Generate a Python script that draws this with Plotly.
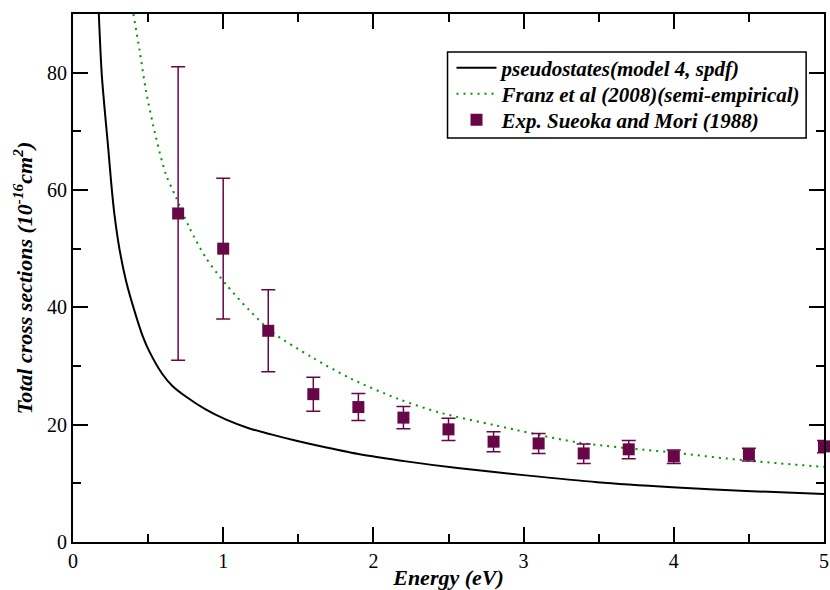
import plotly.graph_objects as go

# Pseudostates (model 4, spdf) curve
pseudo_x = [0.172, 0.192, 0.236, 0.254, 0.276, 0.309, 0.354, 0.42, 0.464, 0.508, 0.596, 0.662, 0.751, 0.883,
            1.016, 1.17, 1.325, 1.48, 1.634, 1.899, 2.23, 2.56, 3.0, 3.49, 3.99, 4.48, 5.0]
pseudo_y = [90.0, 79.5, 66.7, 61.3, 55.8, 50.0, 44.4, 38.5, 35.1, 32.5, 28.6, 26.6, 24.8, 22.6,
            20.9, 19.4, 18.3, 17.3, 16.4, 15.0, 13.7, 12.6, 11.4, 10.2, 9.35, 8.7, 8.2]

# Franz et al (2008) semi-empirical curve
franz_x = [0.402, 0.442, 0.486, 0.552, 0.618, 0.685, 0.773, 0.883, 1.016, 1.17, 1.325, 1.59, 1.854, 2.164,
           2.45, 2.81, 3.355, 3.97, 4.48, 5.0]
franz_y = [90.0, 84.0, 76.9, 69.0, 62.7, 58.8, 53.7, 48.5, 44.0, 39.6, 35.8, 31.5, 27.8, 24.4,
           22.0, 19.9, 17.0, 15.3, 13.9, 12.8]

# Experiment: Sueoka and Mori (1988)
exp_x = [0.7, 1.0, 1.3, 1.6, 1.9, 2.2, 2.5, 2.8, 3.1, 3.4, 3.7, 4.0, 4.5, 5.0]
exp_y = [56.0, 50.0, 36.0, 25.2, 23.0, 21.2, 19.2, 17.1, 16.8, 15.1, 15.8, 14.6, 15.0, 16.3]
exp_hi = [81.0, 62.0, 43.0, 28.1, 25.3, 23.1, 21.1, 18.8, 18.5, 16.7, 17.3, 15.7, 16.0, 17.3]
exp_lo = [31.0, 38.0, 29.0, 22.3, 20.7, 19.3, 17.3, 15.4, 15.1, 13.4, 14.2, 13.4, 13.8, 15.2]

x_ticks = [0, 1, 2, 3, 4, 5]
y_ticks = [0, 20, 40, 60, 80]

err_plus = [h - y for h, y in zip(exp_hi, exp_y)]
err_minus = [y - l for l, y in zip(exp_lo, exp_y)]

MAROON = "#670748"
GREEN = "rgb(0,150,0)"
SERIF = "Liberation Serif, Times New Roman, serif"
LEG_FONT = dict(family=SERIF, size=21, color="black", weight="bold", style="italic")
TITLE_FONT = dict(family=SERIF, size=22, color="black", weight="bold", style="italic")

fig = go.Figure()
fig.add_trace(go.Scatter(
    x=pseudo_x, y=pseudo_y, mode="lines", name="pseudostates(model 4, spdf)",
    line=dict(color="black", width=2, shape="spline", smoothing=0.8),
    legend="legend",
))
fig.add_trace(go.Scatter(
    x=franz_x, y=franz_y, mode="lines", name="Franz et al (2008)(semi-empirical)",
    line=dict(color=GREEN, width=2, dash="2px,5px", shape="spline", smoothing=0.8),
    legend="legend2",
))
fig.add_trace(go.Scatter(
    x=exp_x, y=exp_y, mode="markers", name="Exp. Sueoka and Mori (1988)",
    marker=dict(symbol="square", size=12, color=MAROON),
    error_y=dict(type="data", symmetric=False, array=err_plus, arrayminus=err_minus,
                 color=MAROON, thickness=1.5, width=7),
    cliponaxis=False,
    legend="legend3",
))

axis_common = dict(
    showline=True, linecolor="black", linewidth=2, mirror="allticks",
    ticks="inside", ticklen=15, tickwidth=2, tickcolor="black",
    showgrid=False, zeroline=False,
    tickfont=dict(family=SERIF, size=20, color="black"),
)

fig.update_xaxes(
    range=[0, 5], tickvals=x_ticks, ticktext=[str(v) for v in x_ticks],
    ticklabeloverflow="allow",
    minor=dict(ticks="inside", ticklen=8, tickwidth=2, tickcolor="black", dtick=0.5, showgrid=False),
    title=dict(text="Energy (eV)", font=TITLE_FONT, standoff=2),
    **axis_common,
)
fig.update_yaxes(
    range=[0, 90], tickvals=y_ticks, ticktext=[str(v) for v in y_ticks],
    minor=dict(ticks="inside", ticklen=8, tickwidth=2, tickcolor="black", dtick=10, showgrid=False),
    title=dict(text="Total cross sections (10<sup>-16</sup>cm<sup>2</sup>)", font=TITLE_FONT, standoff=8),
    **axis_common,
)

leg_common = dict(xanchor="left", yanchor="middle", bgcolor="rgba(0,0,0,0)", borderwidth=0,
                  font=LEG_FONT, itemwidth=40)

fig.update_layout(
    width=830, height=590,
    margin=dict(l=73, r=1, t=14, b=48),
    paper_bgcolor="white", plot_bgcolor="white",
    showlegend=True,
    legend=dict(x=0.5040, y=0.8977, **leg_common),
    legend2=dict(x=0.5040, y=0.8485, **leg_common),
    legend3=dict(x=0.5040, y=0.7992, **leg_common),
    shapes=[dict(type="rect", xref="paper", yref="paper", x0=0.4987, x1=0.9762, y0=0.7652, y1=0.928,
                 line=dict(color="black", width=1.5), fillcolor="white", layer="below")],
)

fig.write_html("out.html")
